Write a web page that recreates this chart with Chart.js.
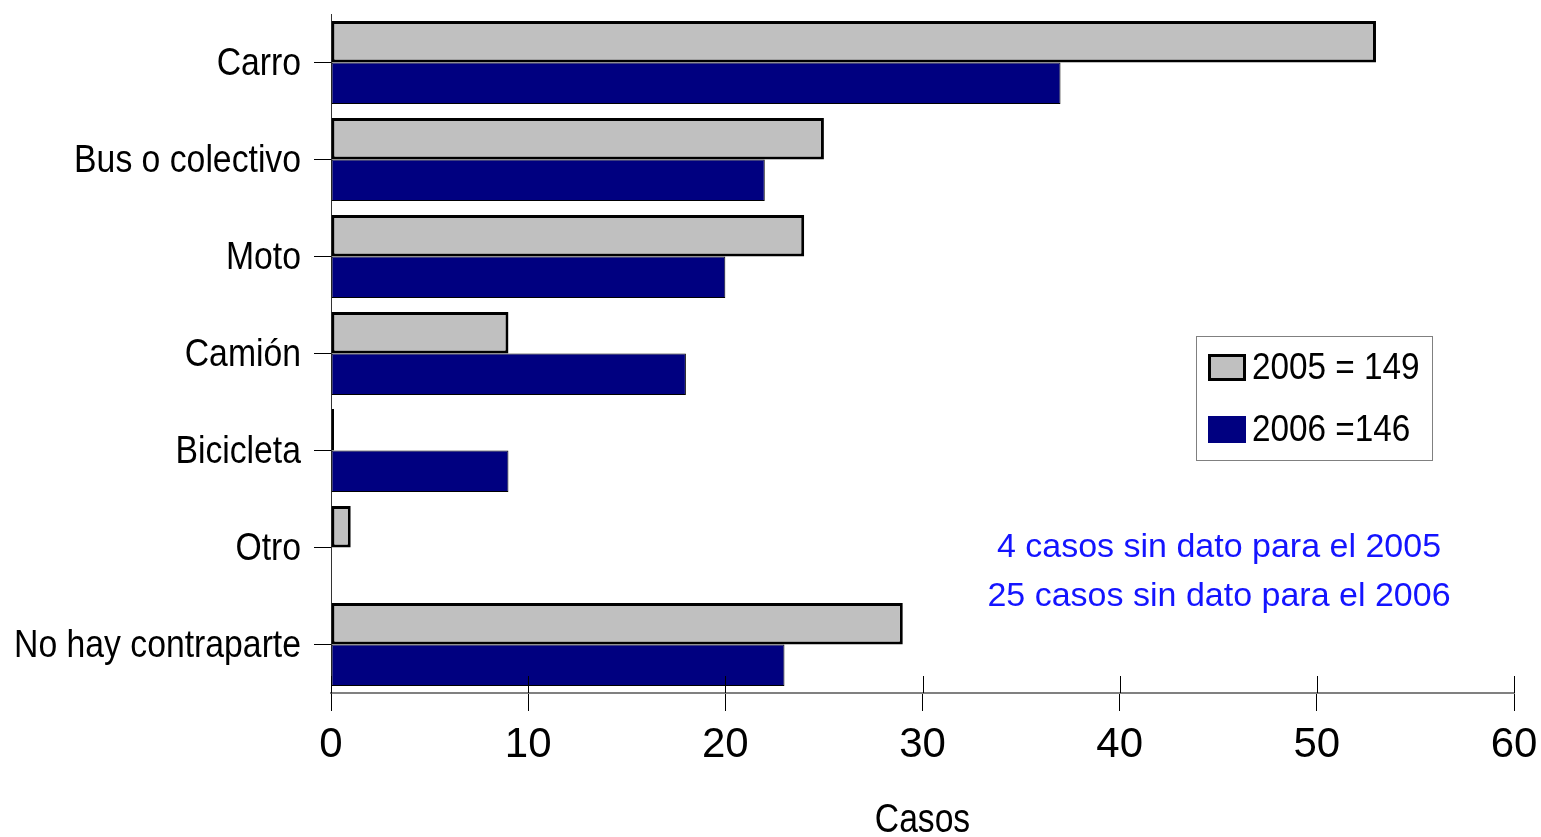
<!DOCTYPE html>
<html>
<head>
<meta charset="utf-8">
<script src="https://cdn.jsdelivr.net/npm/chart.js"></script>
<style>
  html, body { margin: 0; padding: 0; background: #fff; }
</style>
</head>
<body>
<canvas id="canvas" width="1541" height="837"></canvas>
<script>
var categories = ["Carro", "Bus o colectivo", "Moto", "Camión", "Bicicleta", "Otro", "No hay contraparte"];
var values2005 = [53, 25, 24, 9, 0, 1, 29];
var values2006 = [37, 22, 20, 18, 9, 0, 23];
var seriesLabels = ["2005 = 149", "2006 =146"];
var notes = ["4 casos sin dato para el 2005", "25 casos sin dato para el 2006"];
var axisTitle = "Casos";

var FONT = "'Liberation Sans', Arial, sans-serif";

// no narrow font installed, so squeeze the regular one sideways
function narrowText(ctx, text, x, y, size, squeeze, align) {
    ctx.save();
    ctx.translate(x, y);
    ctx.scale(squeeze, 1);
    ctx.font = size + 'px ' + FONT;
    ctx.textAlign = align;
    ctx.textBaseline = 'middle';
    ctx.fillText(text, 0, 0);
    ctx.restore();
}

var extras = {
    id: 'extras',
    afterDraw: function (chart) {
        var ctx = chart.ctx;
        var area = chart.chartArea;
        var xs = chart.scales.x;
        var ys = chart.scales.y;
        ctx.save();

        // upward part of x ticks
        ctx.strokeStyle = '#000';
        ctx.lineWidth = 1;
        xs.ticks.forEach(function (t) {
            var px = Math.round(xs.getPixelForValue(t.value)) + 0.5;
            ctx.beginPath();
            ctx.moveTo(px, area.bottom);
            ctx.lineTo(px, area.bottom - 17);
            ctx.stroke();
        });

        // category labels
        ctx.fillStyle = '#000';
        ys.ticks.forEach(function (t, i) {
            narrowText(ctx, ys.getLabelForValue(t.value), area.left - 30, ys.getPixelForTick(i) + 2, 39, 0.865, 'right');
        });

        // axis title
        narrowText(ctx, axisTitle, (area.left + area.right) / 2, 821, 41, 0.82, 'center');

        // legend
        var lx = area.right - 318, ly = area.top + 322;
        ctx.fillStyle = '#fff';
        ctx.fillRect(lx, ly, 236, 124);
        ctx.strokeStyle = '#808080';
        ctx.lineWidth = 1;
        ctx.strokeRect(lx + 0.5, ly + 0.5, 236, 124);

        var ds = chart.data.datasets;
        var rows = [32, 94];
        ds.forEach(function (d, i) {
            var cy = ly + rows[i];
            ctx.fillStyle = d.backgroundColor;
            ctx.fillRect(lx + 12, cy - 14, 38, 27);
            if (i == 0) {
                ctx.strokeStyle = '#000';
                ctx.lineWidth = 3;
                ctx.strokeRect(lx + 13.5, cy - 12.5, 35, 24);
            }
            ctx.fillStyle = '#000';
            narrowText(ctx, d.label, lx + 56, cy + 1, 37, 0.9, 'left');
        });

        // notes
        ctx.fillStyle = '#1414ff';
        ctx.font = '34px ' + FONT;
        ctx.textAlign = 'center';
        ctx.textBaseline = 'middle';
        ctx.fillText(notes[0], area.right - 295, 548);
        ctx.fillText(notes[1], area.right - 295, 597);
        ctx.restore();
    }
};

var ctx = document.getElementById("canvas").getContext("2d");
var pChart = new Chart(ctx, {
    type: 'bar',
    data: {
        labels: categories,
        datasets: [{
            label: seriesLabels[0],
            data: values2005,
            backgroundColor: '#c0c0c0',
            borderColor: '#000',
            borderWidth: 3,
            borderSkipped: false,
            minBarLength: 3,
        }, {
            label: seriesLabels[1],
            data: values2006,
            backgroundColor: '#000080',
            borderColor: '#000',
            borderWidth: 1,
            borderSkipped: false,
        }],
    },
    options: {
        indexAxis: 'y',
        responsive: false,
        animation: false,
        devicePixelRatio: 1,
        categoryPercentage: 0.856,
        barPercentage: 1,
        layout: {
            padding: { top: 14, right: 27, left: 0, bottom: 0 }
        },
        plugins: {
            legend: { display: false },
            tooltip: { enabled: false },
        },
        scales: {
            x: {
                min: 0,
                max: 60,
                ticks: {
                    stepSize: 10,
                    color: '#000',
                    font: { family: FONT, size: 42 },
                    padding: 9,
                    maxRotation: 0,
                },
                grid: {
                    drawOnChartArea: false,
                    tickLength: 18,
                    color: '#000',
                },
                border: { color: '#808080', width: 2 },
                afterFit: function (s) {
                    s.height = 144;
                    s.paddingLeft = 0;
                    s.paddingRight = 0;
                },
            },
            y: {
                ticks: { display: false },
                grid: {
                    offset: false,
                    drawOnChartArea: false,
                    tickLength: 17,
                    color: '#000',
                },
                border: { color: '#333', width: 1 },
                afterFit: function (s) {
                    s.width = 331;
                    s.paddingTop = 0;
                    s.paddingBottom = 0;
                },
            }
        }
    },
    plugins: [extras]
});
</script>
</body>
</html>
